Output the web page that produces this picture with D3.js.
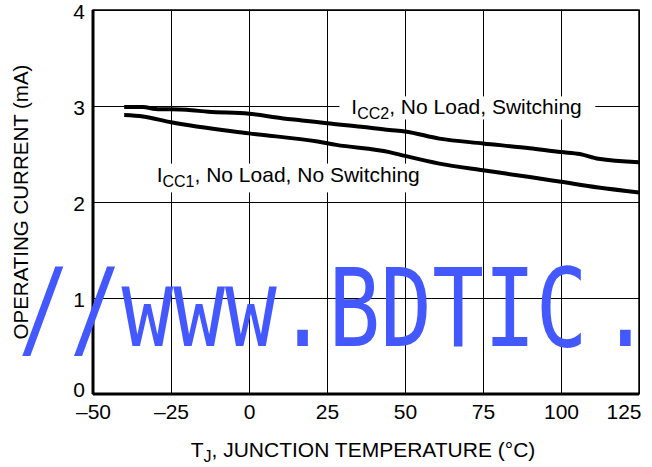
<!DOCTYPE html>
<html>
<head>
<meta charset="utf-8">
<script src="https://cdn.jsdelivr.net/npm/d3@7"></script>
<style>
  body { margin: 0; background: #fff; }
  svg text { fill: #000; }
</style>
</head>
<body>
<div id="chart"></div>
<script>
// Axis ticks
const tempTicks = [-50, -25, 0, 25, 50, 75, 100, 125];
const currentTicks = [0, 1, 2, 3, 4];

// ICC2, No Load, Switching (upper curve)
const icc2Temp = [-40, -34, -30, -20, -13, 0, 11, 17, 25, 36, 45, 50, 61, 75, 90, 100, 106, 112, 125];
const icc2Val  = [2.99, 2.99, 2.97, 2.96, 2.94, 2.92, 2.87, 2.85, 2.82, 2.785, 2.75, 2.735, 2.66, 2.61, 2.56, 2.52, 2.50, 2.45, 2.415];

// ICC1, No Load, No Switching (lower curve)
const icc1Temp = [-40, -34, -25, 0, 22, 28, 45, 50, 61, 75, 90, 100, 112, 125];
const icc1Val  = [2.905, 2.89, 2.83, 2.715, 2.63, 2.595, 2.52, 2.48, 2.40, 2.33, 2.26, 2.21, 2.15, 2.10];

const FONT = '"Liberation Sans", Arial, Helvetica, sans-serif';
const W = 652, H = 467;
const margin = { top: 10, right: 13, bottom: 73, left: 93 };
const w = W - margin.left - margin.right;
const h = H - margin.top - margin.bottom;

const svg = d3.select('#chart').append('svg')
  .attr('width', W)
  .attr('height', H)
  .style('font-family', FONT);

const g = svg.append('g').attr('transform', `translate(${margin.left},${margin.top})`);

const x = d3.scaleLinear().domain([-50, 125]).range([0, w]);
const y = d3.scaleLinear().domain([0, 4]).range([h, 0]);

// x grid + labels
const xAxis = g.append('g')
  .attr('transform', `translate(0,${h})`)
  .call(d3.axisBottom(x).tickValues(tempTicks).tickSize(-h).tickPadding(10)
    .tickFormat(d => d < 0 ? '\u2013' + Math.abs(d) : d));
xAxis.select('.domain').remove();
xAxis.selectAll('line').attr('stroke', '#000').attr('stroke-width', 1);
xAxis.selectAll('text').attr('font-size', 21).style('font-family', FONT);
// last label sits flush with the right edge
xAxis.selectAll('.tick').filter(d => d === 125).select('text')
  .attr('text-anchor', 'end').attr('x', 2);

// y grid + labels
const yAxis = g.append('g')
  .call(d3.axisLeft(y).tickValues(currentTicks).tickSize(-w).tickPadding(8)
    .tickFormat(d3.format('d')));
yAxis.select('.domain').remove();
yAxis.selectAll('line').attr('stroke', '#000').attr('stroke-width', 1);
yAxis.selectAll('text').attr('font-size', 21).attr('dy', '0.42em').style('font-family', FONT);
yAxis.selectAll('.tick').filter(d => d === 0).select('text').attr('dy', '0.1em');

// frame: thin top/right, thick left/bottom
g.append('rect').attr('x', 0).attr('y', 0).attr('width', w).attr('height', h)
  .attr('fill', 'none').attr('stroke', '#000').attr('stroke-width', 1.5);
g.append('line').attr('x1', 0).attr('x2', 0).attr('y1', 0).attr('y2', h)
  .attr('stroke', '#000').attr('stroke-width', 3);
g.append('line').attr('x1', 0).attr('x2', w).attr('y1', h).attr('y2', h)
  .attr('stroke', '#000').attr('stroke-width', 3);

// curve labels with white backing
function addLabel(tx, ty, sub, rest, box) {
  g.append('rect')
    .attr('x', x(box[0])).attr('y', y(box[3]))
    .attr('width', x(box[1]) - x(box[0])).attr('height', y(box[2]) - y(box[3]))
    .attr('fill', '#fff');
  const t = g.append('text').attr('x', x(tx)).attr('y', y(ty)).attr('font-size', 21);
  t.append('tspan').text('I');
  t.append('tspan').attr('font-size', 16).attr('dy', 5).text(sub);
  t.append('tspan').attr('dy', -5).text(rest);
}
addLabel(32.8, 2.92, 'CC2', ', No Load, Switching', [29, 111, 2.86, 3.1]);
addLabel(-29.6, 2.205, 'CC1', ', No Load, No Switching', [-33, 56, 2.1, 2.4]);

// curves
const line = d3.line().x(d => x(d[0])).y(d => y(d[1])).curve(d3.curveMonotoneX);
g.append('path').datum(d3.zip(icc2Temp, icc2Val))
  .attr('d', line).attr('fill', 'none').attr('stroke', '#000').attr('stroke-width', 4);
g.append('path').datum(d3.zip(icc1Temp, icc1Val))
  .attr('d', line).attr('fill', 'none').attr('stroke', '#000').attr('stroke-width', 4);

// axis titles
const xt = svg.append('text').attr('x', margin.left + w / 2 - 3).attr('y', 457)
  .attr('text-anchor', 'middle').attr('font-size', 21);
xt.append('tspan').text('T');
xt.append('tspan').attr('font-size', 16).attr('dy', 5).text('J');
xt.append('tspan').attr('dy', -5).text(', JUNCTION TEMPERATURE (\u00B0C)');

svg.append('text')
  .attr('transform', 'translate(28,202) rotate(-90)')
  .attr('text-anchor', 'middle').attr('font-size', 20.5)
  .text('OPERATING CURRENT (mA)');

// watermark overlay
const wm = svg.append('text')
  .attr('transform', 'translate(18,346) scale(1,1.27)')
  .style('font-family', '"DejaVu Sans Mono", "Liberation Mono", monospace')
  .attr('font-size', 86)
  .style('fill', '#4458ff');
wm.append('tspan').text('//www.BDTIC');
wm.append('tspan').attr('dx', 12).text('.');
</script>
</body>
</html>
